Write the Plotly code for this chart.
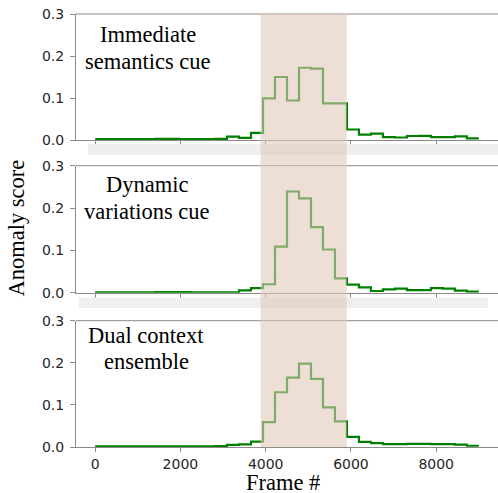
import numpy as np
import plotly.graph_objects as go

# ---- data ----
n_frames = 9000
seg_edges = np.linspace(0, n_frames, 33)  # 32 equal segments

immediate = [0.002, 0.002, 0.002, 0.002, 0.002, 0.0025, 0.0025, 0.002, 0.002, 0.002, 0.0025,
             0.008, 0.005, 0.017, 0.099, 0.150, 0.094, 0.172, 0.170, 0.087, 0.087,
             0.025, 0.013, 0.015, 0.007, 0.006, 0.0095, 0.010, 0.007, 0.007, 0.0085, 0.004]
dynamic = [0.001, 0.001, 0.001, 0.001, 0.001, 0.0015, 0.0015, 0.0015, 0.001, 0.001, 0.001,
           0.001, 0.0055, 0.011, 0.020, 0.109, 0.239, 0.223, 0.155, 0.102, 0.034,
           0.019, 0.0126, 0.004, 0.008, 0.0095, 0.006, 0.006, 0.011, 0.0095, 0.005, 0.0025]
dual = [0.0015, 0.0015, 0.0015, 0.0015, 0.0015, 0.0015, 0.0015, 0.0015, 0.0015, 0.0015, 0.002,
        0.005, 0.006, 0.013, 0.059, 0.130, 0.165, 0.198, 0.162, 0.094, 0.061,
        0.024, 0.012, 0.009, 0.007, 0.007, 0.0075, 0.0075, 0.007, 0.007, 0.0055, 0.003]

series = [immediate, dynamic, dual]
labels = [["Immediate", "semantics cue"], ["Dynamic", "variations cue"], ["Dual context", "ensemble"]]
gt_start, gt_end = 3880, 5900
x_ticks = [0, 2000, 4000, 6000, 8000]
y_ticks = [0.0, 0.1, 0.2, 0.3]

# ---- layout helpers (pixel -> paper) ----
W, H = 498, 493
ML, MR, MT, MB = 76, 0, 14, 46
PW, PH = W - ML - MR, H - MT - MB


def px(x):
    return (x - ML) / PW


def py(y):
    return (H - MB - y) / PH


panels_px = [(14, 140), (165.7, 292.7), (320.7, 447)]
label_px = [[(148, 34.7), (148, 61.3)], [(147, 184.7), (147, 211.3)], [(146, 335.7), (146.5, 361.3)]]

serif = "Liberation Serif, Times New Roman, serif"
sans = "DejaVu Sans, sans-serif"
axis_col = "#8a8a8a"

fig = go.Figure()
for i, vals in enumerate(series):
    yv = list(vals) + [vals[-1]]
    fig.add_trace(go.Scatter(
        x=seg_edges, y=yv, mode="lines", line_shape="hv",
        line=dict(color="green", width=2.2),
        xaxis=f"x{i+1}", yaxis=f"y{i+1}", showlegend=False, hoverinfo="skip"))

layout = dict(
    width=W, height=H, margin=dict(l=ML, r=MR, t=MT, b=MB, autoexpand=False),
    paper_bgcolor="white", plot_bgcolor="white", showlegend=False,
)
for i in range(3):
    top, bot = panels_px[i]
    sfx = "" if i == 0 else str(i + 1)
    layout[f"xaxis{sfx}"] = dict(
        domain=[0, 1], anchor=f"y{sfx}", range=[-450, 9450],
        tickvals=x_ticks, ticks="outside", ticklen=4, tickcolor=axis_col,
        showticklabels=(i == 2), showline=True, linecolor=axis_col, linewidth=1,
        showgrid=False, zeroline=False, automargin=False,
        tickfont=dict(family=sans, size=14, color="#262626"))
    layout[f"yaxis{sfx}"] = dict(
        domain=[py(bot), py(top)], anchor=f"x{sfx}", range=[0, 0.3],
        tickvals=y_ticks, tickformat=".1f", ticks="outside", ticklen=5, tickcolor=axis_col,
        ticklabelstandoff=3,
        showline=True, linecolor=axis_col, linewidth=1,
        showgrid=False, zeroline=False, automargin=False,
        tickfont=dict(family=sans, size=14, color="#262626"))
fig.update_layout(**layout)

shapes = []
# light gray bands between panels
shapes.append(dict(type="rect", xref="paper", yref="paper", x0=px(88), x1=px(498), y0=py(155), y1=py(144),
                   fillcolor="#efefef", line=dict(width=0), layer="above"))
shapes.append(dict(type="rect", xref="paper", yref="paper", x0=px(79), x1=px(488), y0=py(308), y1=py(297.5),
                   fillcolor="#efefef", line=dict(width=0), layer="above"))
# top spines
for i in range(3):
    sfx = "" if i == 0 else str(i + 1)
    shapes.append(dict(type="line", xref=f"x{sfx} domain", yref=f"y{sfx} domain", x0=0, x1=1, y0=1, y1=1,
                       line=dict(color=axis_col, width=1), layer="above"))
# anomaly ground-truth shading
shapes.append(dict(type="rect", xref="x3", yref="paper", x0=gt_start, x1=gt_end, y0=0, y1=1,
                   fillcolor="rgb(224,200,182)", opacity=0.58, line=dict(width=0), layer="above"))
fig.update_layout(shapes=shapes)

ann = []
for i in range(3):
    for txt, (cx, cy) in zip(labels[i], label_px[i]):
        ann.append(dict(text=txt, xref="paper", yref="paper", x=px(cx), y=py(cy),
                        xanchor="center", yanchor="middle", showarrow=False,
                        font=dict(family=serif, size=22.5, color="black")))
ann.append(dict(text="Frame #", xref="paper", yref="paper", x=px(282.5), y=py(482.5),
                xanchor="center", yanchor="middle", showarrow=False,
                font=dict(family=serif, size=22.5, color="black")))
ann.append(dict(text="Anomaly score", xref="paper", yref="paper", x=px(16), y=py(228.5),
                xanchor="center", yanchor="middle", showarrow=False, textangle=-90,
                font=dict(family=serif, size=22.5, color="black")))
fig.update_layout(annotations=ann)

fig.write_html("out.html", config={"displayModeBar": False},
               post_script="document.body.style.margin='0';")
